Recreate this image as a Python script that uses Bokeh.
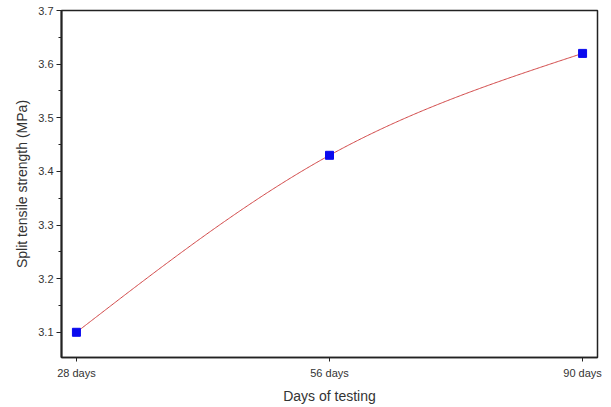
import numpy as np
from bokeh.plotting import figure
from bokeh.models import FixedTicker, Range1d
from bokeh.embed import file_html
from bokeh.resources import INLINE

# Split tensile strength at each testing age
ages = ["28 days", "56 days", "90 days"]
strength = [3.10, 3.43, 3.62]

x_pos = np.arange(len(ages), dtype=float)
y_val = np.array(strength)

# Natural cubic spline through the measured points for the connecting curve
def natural_spline(x, y, n=200):
    k = len(x)
    h = np.diff(x)
    A = np.zeros((k, k))
    r = np.zeros(k)
    A[0, 0] = A[-1, -1] = 1.0
    for i in range(1, k - 1):
        A[i, i - 1] = h[i - 1]
        A[i, i] = 2 * (h[i - 1] + h[i])
        A[i, i + 1] = h[i]
        r[i] = 6 * ((y[i + 1] - y[i]) / h[i] - (y[i] - y[i - 1]) / h[i - 1])
    M = np.linalg.solve(A, r)
    xs, ys = [], []
    for i in range(k - 1):
        t = np.linspace(x[i], x[i + 1], n, endpoint=(i == k - 2))
        a = (x[i + 1] - t) / h[i]
        b = (t - x[i]) / h[i]
        s = (a * y[i] + b * y[i + 1]
             + ((a ** 3 - a) * M[i] + (b ** 3 - b) * M[i + 1]) * h[i] ** 2 / 6)
        xs.append(t)
        ys.append(s)
    return np.concatenate(xs), np.concatenate(ys)

cx, cy = natural_spline(x_pos, y_val)

p = figure(width=611, height=407, output_backend="svg", toolbar_location=None,
           x_range=Range1d(-0.059, 2.059), y_range=Range1d(3.053, 3.7),
           min_border_left=61, min_border_right=14, min_border_top=10,
           min_border_bottom=50)

p.background_fill_color = "white"
p.border_fill_color = "white"
p.outline_line_color = "#222222"
p.outline_line_width = 1.5
p.xgrid.visible = False
p.ygrid.visible = False

p.line(cx, cy, line_color="#d04545", line_width=1)
p.scatter(x_pos, y_val, marker="square", size=8, fill_color="#0a0aee",
          line_color="#0a0aee")

font = "Liberation Sans"

# x axis
p.xaxis.ticker = FixedTicker(ticks=list(x_pos))
p.xaxis.major_label_overrides = {float(i): lbl for i, lbl in enumerate(ages)}
p.xaxis.major_label_overrides.update({int(i): lbl for i, lbl in enumerate(ages)})
p.xaxis.axis_label = "Days of testing"
p.xaxis.major_tick_in = 0
p.xaxis.major_tick_out = 4
p.xaxis.major_label_standoff = 5
p.xaxis.axis_label_standoff = 6

# y axis
p.yaxis.ticker = FixedTicker(ticks=[3.1, 3.2, 3.3, 3.4, 3.5, 3.6, 3.7],
                             minor_ticks=[3.15, 3.25, 3.35, 3.45, 3.55, 3.65])
p.yaxis.axis_label = "Split tensile strength (MPa)"
p.yaxis.major_tick_in = 0
p.yaxis.major_tick_out = 5
p.yaxis.minor_tick_in = 0
p.yaxis.minor_tick_out = 3
p.yaxis.major_label_standoff = 3
p.yaxis.axis_label_standoff = 5

for ax in (p.xaxis, p.yaxis):
    ax.axis_line_color = "#222222"
    ax.axis_line_width = 1.5
    ax.major_tick_line_color = "#222222"
    ax.major_label_text_font = font
    ax.major_label_text_font_size = "11px"
    ax.major_label_text_color = "#333333"
    ax.axis_label_text_font = font
    ax.axis_label_text_font_size = "14px"
    ax.axis_label_text_font_style = "normal"
    ax.axis_label_text_color = "#333333"

p.xaxis.minor_tick_line_color = None
p.yaxis.minor_tick_line_color = "#222222"
p.yaxis.axis_line_width = 2

open("out.html", "w").write(file_html(p, INLINE))
